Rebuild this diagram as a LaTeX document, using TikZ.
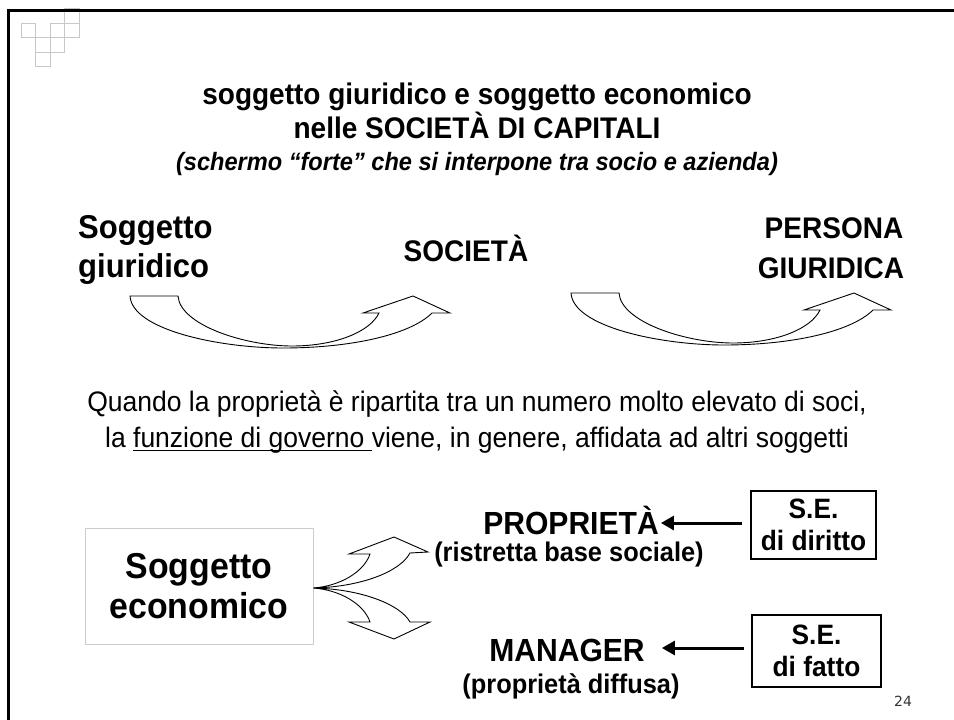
\documentclass[tikz,border=0pt]{standalone}
\usepackage{fontspec}
\setmainfont{Liberation Sans}[FakeStretch=0.94]
\newfontfamily\pagefont{DejaVu Sans}
\usetikzlibrary{arrows.meta}
\newcommand\ulbox[1]{\setbox0=\hbox{#1}\rlap{\rule[-4pt]{\wd0}{1.3pt}}\box0}
\tikzset{
  gridsq/.style={draw=black!22, line width=0.8pt},
  frameline/.style={draw=black, line width=3pt},
  ttl/.style={inner sep=0pt, anchor=base, font=\fontsize{29.8}{33}\selectfont\bfseries},
  biglbl/.style={inner sep=0pt, anchor=base, font=\fontsize{33}{38}\selectfont\bfseries},
  midlbl/.style={inner sep=0pt, anchor=base, font=\fontsize{29.8}{34}\selectfont\bfseries},
  body/.style={inner sep=0pt, anchor=base, font=\fontsize{28.2}{32}\selectfont},
  keylbl/.style={inner sep=0pt, anchor=base, font=\fontsize{32}{36}\selectfont\bfseries},
  parlbl/.style={inner sep=0pt, anchor=base, font=\fontsize{27}{30}\selectfont\bfseries},
  sebox/.style={draw=black, line width=2.6pt, inner sep=0pt, align=center, font=\fontsize{28}{32}\selectfont\bfseries},
  ecobox/.style={draw=black!20, line width=1pt, inner sep=0pt, align=center, minimum width=228pt, minimum height=116pt, font=\fontsize{36}{40}\selectfont\bfseries},
  curvarr/.style={draw=black, line width=0.9pt, fill=white, line join=miter},
  sarr/.style={draw=black, line width=3pt, -{Triangle[length=13pt,width=14pt]}},
  pagenum/.style={inner sep=0pt, anchor=base, text=black!80, font=\pagefont\fontsize{14}{16}\selectfont}
}
\begin{document}
\begin{tikzpicture}[x=1pt,y=-1pt]
\useasboundingbox (0,0) rectangle (954,720);
% corner grid
\foreach \c/\r in {0/1,1/2,1/3,2/1,2/2,3/0,3/1}
  \draw[gridsq] ({21+14.5*\c},{8.5+14.5*\r}) rectangle ++(14.5,14.5);
\draw[frameline] (7,10.5) -- (954,10.5);
\draw[frameline] (8.5,9) -- (8.5,720);

% title
\node[ttl] (t1) at (477,104) {soggetto giuridico e soggetto economico};
\node[ttl] (t2) at (477,138) {nelle SOCIETÀ DI CAPITALI};
\node[ttl, font=\fontsize{25.1}{30}\selectfont\bfseries\itshape] (t3) at (477,170) {(schermo “forte” che si interpone tra socio e azienda)};

% upper labels
\node[biglbl, anchor=base west] (sg1) at (78,238) {Soggetto};
\node[biglbl, anchor=base west] (sg2) at (78,277) {giuridico};
\node[midlbl] (soc) at (466,261) {SOCIETÀ};
\node[midlbl] (pg1) at (834,238) {PERSONA};
\node[midlbl] (pg2) at (831,278) {GIURIDICA};

% curved arrows
\draw[curvarr] (130,296) -- (178,296)
  .. controls (180,325) and (245,346) .. (292,346)
  .. controls (335,346) and (370,332) .. (379,313)
  -- (363,313) -- (413,296) -- (450,313) -- (432,313)
  .. controls (410,335) and (350,348) .. (283,348)
  .. controls (220,348) and (132,330) .. (130,296) -- cycle;
\begin{scope}[shift={(441,-3)}]
\draw[curvarr] (130,296) -- (178,296)
  .. controls (180,325) and (245,346) .. (292,346)
  .. controls (335,346) and (370,332) .. (379,313)
  -- (363,313) -- (413,296) -- (450,313) -- (432,313)
  .. controls (410,335) and (350,348) .. (283,348)
  .. controls (220,348) and (132,330) .. (130,296) -- cycle;
\end{scope}

% body text
\node[body] (b1) at (477,411) {Quando la proprietà è ripartita tra un numero molto elevato di soci,};
\node[body] (b2) at (477,447) {la \ulbox{funzione di governo }viene, in genere, affidata ad altri soggetti};

% lower part
\node[ecobox] (se) at (199,586) {Soggetto\\economico};
\coordinate (fo) at ([yshift=-2pt]se.east);
\draw[curvarr] (fo) .. controls (340,586) and (364,572) .. (370,554)
  -- (349,554) -- (394,537) -- (428,552) -- (410,553)
  .. controls (400,572) and (360,587) .. (fo) -- cycle;
\draw[curvarr] (fo) .. controls (340,590) and (364,604) .. (370,622)
  -- (349,622) -- (394,639) -- (430,622) -- (410,622)
  .. controls (400,604) and (360,589) .. (fo) -- cycle;

\node[keylbl] (prop) at (571,534) {PROPRIETÀ};
\node[parlbl] (ris) at (569,561) {(ristretta base sociale)};
\node[sebox, minimum width=125pt, minimum height=68pt] (se1) at (813.5,525) {S.E.\\di diritto};
\node[keylbl] (mgr) at (567,661) {MANAGER};
\node[parlbl] (pd) at (571,693) {(proprietà diffusa)};
\node[sebox, minimum width=129pt, minimum height=72pt] (se2) at (816.5,651) {S.E.\\di fatto};

\coordinate (a1) at ([xshift=-8pt,yshift=2pt]se1.west);
\path (a1 -| prop.east) coordinate (p1);
\draw[sarr] (a1) -- ([xshift=2pt]p1);
\coordinate (a2) at ([xshift=-7pt,yshift=3pt]se2.west);
\path (a2 -| mgr.east) coordinate (m1);
\draw[sarr] (a2) -- ([xshift=17pt]m1);

\node[pagenum] (pn) at (903,706) {24};
\end{tikzpicture}
\end{document}
